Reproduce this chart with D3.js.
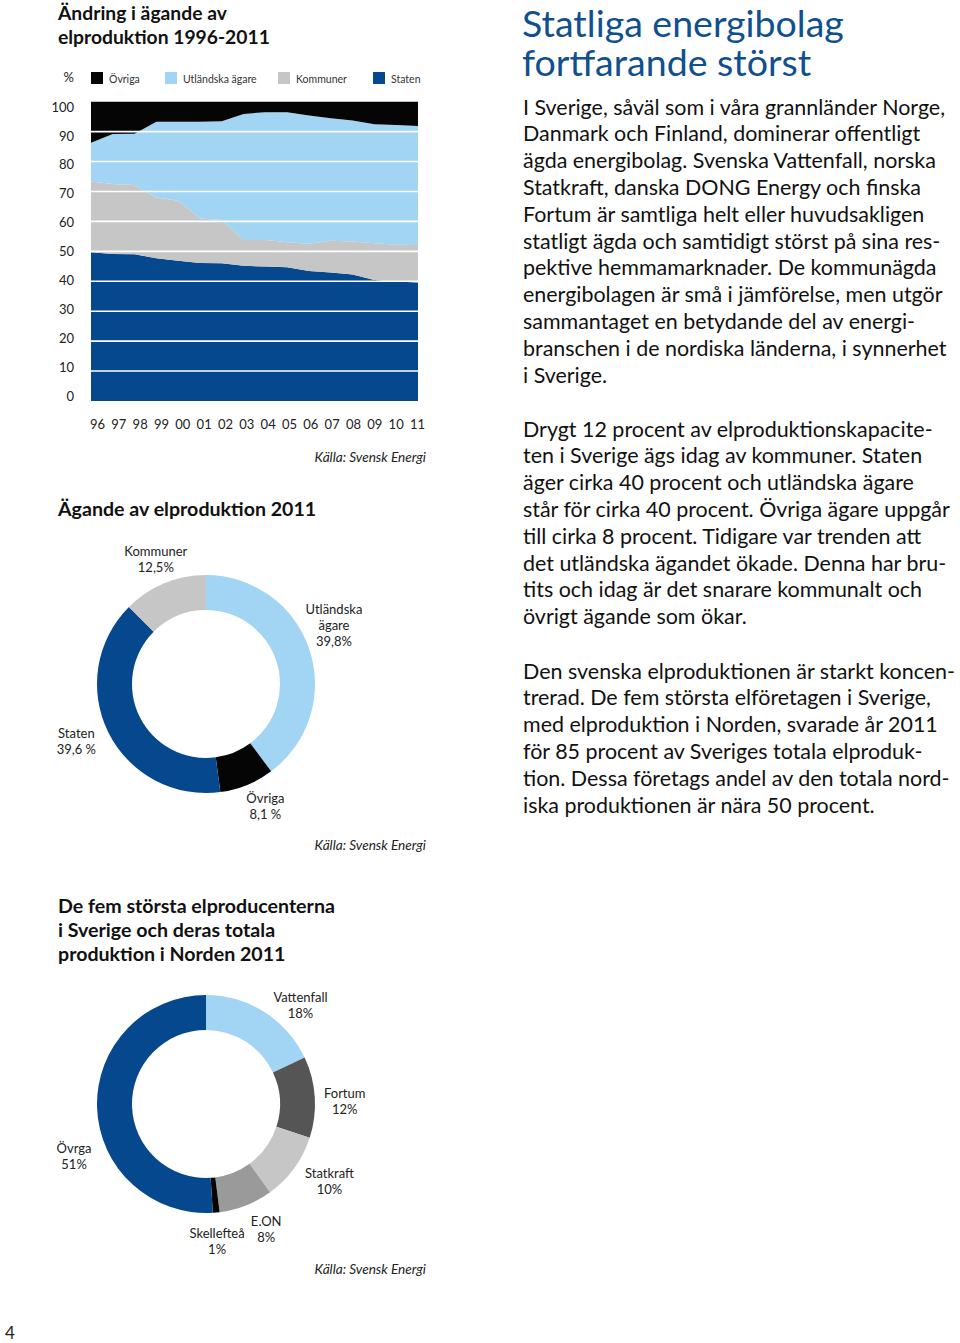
<!DOCTYPE html>
<html>
<head>
<meta charset="utf-8">
<script src="https://cdn.jsdelivr.net/npm/d3@7"></script>
<style>
  body { margin: 0; background: #fff; }
  svg { display: block; font-family: Lato, "Open Sans", sans-serif; }
</style>
</head>
<body>
<div id="page"></div>
<script>
// --- data: ownership of electricity production 1996-2011 (%) ---
const years = ["96", "97", "98", "99", "00", "01", "02", "03", "04", "05", "06", "07", "08", "09", "10", "11"];
const staten    = [49.7, 49.1, 49.0, 47.7, 46.9, 46.1, 46.0, 45.2, 44.9, 44.7, 43.4, 42.9, 42.3, 40.4, 39.9, 39.6];
const kommuner  = [23.6, 23.4, 23.2, 20.3, 20.0, 14.9, 14.5, 8.6, 8.9, 8.3, 9.1, 10.6, 11.0, 12.3, 12.3, 12.5];
const utlandska = [13.0, 16.7, 17.1, 25.3, 26.4, 32.3, 33.0, 42.1, 42.7, 43.5, 42.9, 41.0, 40.4, 39.8, 40.0, 39.8];
const ovriga    = [13.7, 10.8, 10.7, 6.7, 6.7, 6.7, 6.5, 4.1, 3.5, 3.5, 4.6, 5.5, 6.3, 7.5, 7.8, 8.1];
const legendNames = ["Övriga", "Utländska ägare", "Kommuner", "Staten"];
const yTicks = [0, 10, 20, 30, 40, 50, 60, 70, 80, 90, 100];

// --- data: ownership 2011 ---
const owners2011 = ["Utländska ägare", "Övriga", "Staten", "Kommuner"];
const owners2011Values = [39.8, 8.1, 39.6, 12.5];
const owners2011Labels = [["Utländska", "ägare", "39,8%"], ["Övriga", "8,1 %"], ["Staten", "39,6 %"], ["Kommuner", "12,5%"]];

// --- data: five largest producers, Nordic production 2011 ---
const producers = ["Vattenfall", "Fortum", "Statkraft", "E.ON", "Skellefteå", "Övrga"];
const producerValues = [18, 12, 10, 8, 1, 51];
const producerLabels = [["Vattenfall", "18%"], ["Fortum", "12%"], ["Statkraft", "10%"], ["E.ON", "8%"], ["Skellefteå", "1%"], ["Övrga", "51%"]];

const para1 = [
  "I Sverige, såväl som i våra grannländer Norge,",
  "Danmark och Finland, dominerar offentligt",
  "ägda energibolag. Svenska Vattenfall, norska",
  "Statkraft, danska DONG Energy och finska",
  "Fortum är samtliga helt eller huvudsakligen",
  "statligt ägda och samtidigt störst på sina res-",
  "pektive hemmamarknader. De kommunägda",
  "energibolagen är små i jämförelse, men utgör",
  "sammantaget en betydande del av energi-",
  "branschen i de nordiska länderna, i synnerhet",
  "i Sverige."
];
const para2 = [
  "Drygt 12 procent av elproduktionskapacite-",
  "ten i Sverige ägs idag av kommuner. Staten",
  "äger cirka 40 procent och utländska ägare",
  "står för cirka 40 procent. Övriga ägare uppgår",
  "till cirka 8 procent. Tidigare var trenden att",
  "det utländska ägandet ökade. Denna har bru-",
  "tits och idag är det snarare kommunalt och",
  "övrigt ägande som ökar."
];
const para3 = [
  "Den svenska elproduktionen är starkt koncen-",
  "trerad. De fem största elföretagen i Sverige,",
  "med elproduktion i Norden, svarade år 2011",
  "för 85 procent av Sveriges totala elproduk-",
  "tion. Dessa företags andel av den totala nord-",
  "iska produktionen är nära 50 procent."
];

const colors = {
  "Staten": "#05488d",
  "Kommuner": "#c6c6c6",
  "Utländska ägare": "#a2d4f3",
  "Övriga": "#050505"
};
const producerColors = ["#a2d4f3", "#555555", "#c6c6c6", "#9a9a9a", "#050505", "#05488d"];

const W = 960, H = 1343;
const svg = d3.select("#page").append("svg")
  .attr("width", W).attr("height", H);

// ---------- area chart ----------
const rows = years.map((y, i) => ({
  year: y,
  "Staten": staten[i],
  "Kommuner": kommuner[i],
  "Utländska ägare": utlandska[i],
  "Övriga": ovriga[i]
}));
const stackKeys = ["Staten", "Kommuner", "Utländska ägare", "Övriga"];
const stacked = d3.stack().keys(stackKeys)(rows);

const x = d3.scalePoint().domain(years).range([91, 418]);
const y = d3.scaleLinear().domain([0, 100]).range([401, 101.7]);

const titleG = svg.append("g").attr("font-weight", 700).attr("font-size", 19.3).attr("fill", "#111");
titleG.append("text").attr("x", 58).attr("y", 20).text("Ändring i ägande av");
titleG.append("text").attr("x", 58).attr("y", 44).text("elproduktion 1996-2011");

const area = d3.area()
  .x(d => x(d.data.year))
  .y0(d => y(d[0]))
  .y1(d => y(d[1]));

svg.append("g").selectAll("path")
  .data(stacked)
  .join("path")
  .attr("d", area)
  .attr("fill", d => colors[d.key]);

// white gridlines over the areas
svg.append("g").selectAll("line")
  .data(yTicks.filter(t => t > 0 && t < 100))
  .join("line")
  .attr("x1", 91).attr("x2", 418)
  .attr("y1", d => y(d)).attr("y2", d => y(d))
  .attr("stroke", "#fff").attr("stroke-width", 1.6);

// tick labels sit on a slightly tighter scale than the plot, as in the original
const yLabels = d3.scaleLinear().domain([0, 100]).range([396, 107]);
const yAxis = svg.append("g")
  .attr("transform", "translate(91,0)")
  .call(d3.axisLeft(yLabels).tickValues(yTicks).tickSize(0).tickPadding(17));
yAxis.select(".domain").remove();
yAxis.selectAll("text").attr("font-size", 13).attr("fill", "#222").attr("font-family", "Lato, sans-serif");

const xLabels = d3.scalePoint().domain(years).range([97, 417]);
const xAxis = svg.append("g")
  .attr("transform", "translate(0,401)")
  .call(d3.axisBottom(xLabels).tickSize(0).tickPadding(19));
xAxis.select(".domain").remove();
xAxis.selectAll("text").attr("font-size", 13).attr("fill", "#222").attr("font-family", "Lato, sans-serif");

// legend
svg.append("text").attr("x", 74).attr("y", 82).attr("text-anchor", "end")
  .attr("font-size", 13).attr("fill", "#222").text("%");
const legendX = [91, 165, 278, 373];
const leg = svg.append("g").selectAll("g")
  .data(legendNames)
  .join("g")
  .attr("transform", (d, i) => `translate(${legendX[i]},72)`);
leg.append("rect").attr("width", 12).attr("height", 12).attr("fill", d => colors[d]);
leg.append("text").attr("x", 18).attr("y", 10.5)
  .attr("font-size", 10.5).attr("fill", "#333").text(d => d);

function source(yPos) {
  svg.append("text").attr("x", 426).attr("y", yPos).attr("text-anchor", "end")
    .attr("font-size", 13.6).attr("font-style", "italic").attr("fill", "#222")
    .text("Källa: Svensk Energi");
}
source(462);

// ---------- donut helper ----------
function donut(cx, cy, values, fills, labels, nudge) {
  const pie = d3.pie().sort(null).value(d => d)(values);
  const arc = d3.arc().innerRadius(74).outerRadius(109);
  const labelArc = d3.arc().innerRadius(139).outerRadius(139);
  const g = svg.append("g").attr("transform", `translate(${cx},${cy})`);
  g.selectAll("path").data(pie).join("path")
    .attr("d", arc)
    .attr("fill", (d, i) => fills[i]);
  const lg = g.selectAll("text.lbl").data(pie).join("text")
    .attr("class", "lbl")
    .attr("text-anchor", "middle")
    .attr("font-size", 13)
    .attr("fill", "#222")
    .attr("transform", (d, i) => {
      const c = labelArc.centroid(d);
      const n = nudge[i] || [0, 0];
      const nLines = labels[i].length;
      return `translate(${c[0] + n[0]},${c[1] + n[1] - (nLines - 1) * 8 + 4.5})`;
    });
  lg.each(function(d, i) {
    d3.select(this).selectAll("tspan").data(labels[i]).join("tspan")
      .attr("x", 0).attr("dy", (t, j) => j === 0 ? 0 : 16).text(t => t);
  });
}

// ---------- donut 1 ----------
svg.append("text").attr("x", 58).attr("y", 516)
  .attr("font-weight", 700).attr("font-size", 19.6).attr("fill", "#111")
  .text("Ägande av elproduktion 2011");
donut(206, 684,
  owners2011Values,
  owners2011.map(k => colors[k]),
  owners2011Labels,
  [[-4, -15], [7, -6], [-5, -4], [3, 4]]);
source(850);

// ---------- donut 2 ----------
const t2 = svg.append("g").attr("font-weight", 700).attr("font-size", 19.6).attr("fill", "#111");
["De fem största elproducenterna", "i Sverige och deras totala", "produktion i Norden 2011"]
  .forEach((s, i) => t2.append("text").attr("x", 58).attr("y", 913 + i * 24).text(s));
donut(206, 1104,
  producerValues,
  producerColors,
  producerLabels,
  [[20, 19], [0, 6], [11, -4], [9, -4], [-2, -1], [7, 48]]);
source(1274);

// page number
svg.append("text").attr("x", 5).attr("y", 1339).attr("font-size", 17).attr("fill", "#222").text("4");

// ---------- text column ----------
const head = svg.append("text").attr("fill", "#11508f").attr("font-size", 37.5)
  .attr("x", 522).attr("y", 37);
head.append("tspan").attr("x", 522).text("Statliga energibolag");
head.append("tspan").attr("x", 522).attr("dy", 38.5).text("fortfarande störst");

function para(lines, y0) {
  const g = svg.append("g").attr("font-size", 20.5).attr("fill", "#111");
  g.selectAll("text").data(lines).join("text")
    .attr("x", 523)
    .attr("y", (d, i) => y0 + i * 26.8)
    .text(d => d);
  return g;
}
const pg = [para(para1, 114.5), para(para2, 436.5), para(para3, 678.5)];

// fit the paragraphs to the column width of the reference
let widest = 0;
pg.forEach(g => g.selectAll("text").each(function() {
  widest = Math.max(widest, this.getComputedTextLength());
}));
const fs = 20.5 * 432 / widest;
pg.forEach(g => g.attr("font-size", fs));
</script>
</body>
</html>
